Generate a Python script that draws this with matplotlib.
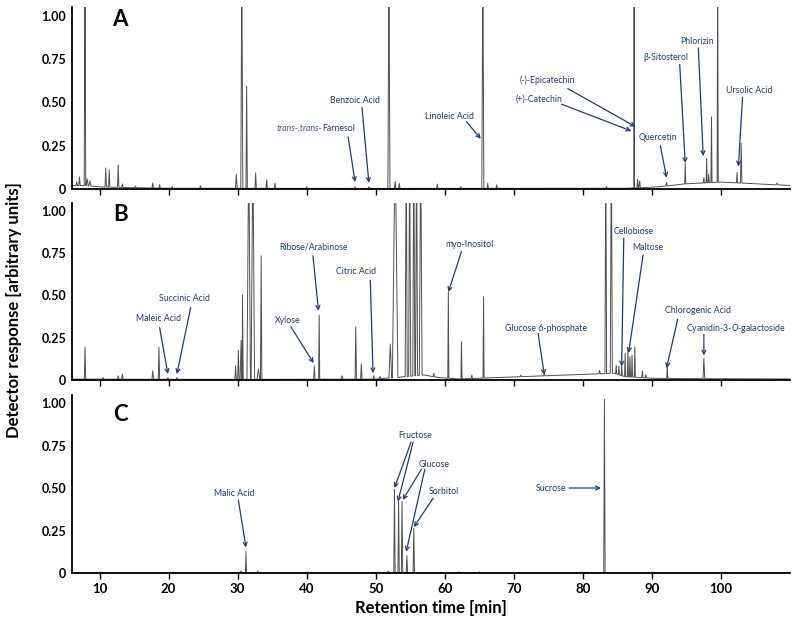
import numpy as np
import matplotlib.pyplot as plt

plt.rcParams["font.family"] = ["Lato", "DejaVu Sans"]
plt.rcParams["mathtext.fontset"] = "custom"
plt.rcParams["mathtext.it"] = "Lato:italic"
plt.rcParams["mathtext.rm"] = "Lato"

# peaks: (retention time [min], height, half width [min])
peaks_a = [
    (6.7, 0.02, 0.1), (7.1, 0.05, 0.1), (7.9, 1.30, 0.12), (8.2, 0.04, 0.15),
    (8.6, 0.03, 0.15), (10.9, 0.11, 0.1), (11.4, 0.10, 0.1), (12.7, 0.13, 0.1),
    (13.3, 0.02, 0.1), (15.2, 0.01, 0.1), (17.7, 0.03, 0.1), (18.7, 0.02, 0.1),
    (20.5, 0.01, 0.1), (24.6, 0.015, 0.1), (29.8, 0.08, 0.12), (30.6, 1.30, 0.15),
    (31.3, 0.59, 0.1), (32.6, 0.09, 0.1), (34.2, 0.05, 0.1), (35.4, 0.03, 0.1),
    (40.0, 0.01, 0.1), (47.0, 0.01, 0.1), (49.0, 0.01, 0.1), (51.9, 1.30, 0.15),
    (52.8, 0.04, 0.1), (53.4, 0.03, 0.1), (58.9, 0.025, 0.1), (62.3, 0.01, 0.1),
    (65.5, 1.30, 0.15), (66.2, 0.03, 0.1), (67.5, 0.02, 0.1), (83.4, 0.01, 0.1),
    (87.4, 1.30, 0.05), (87.9, 0.05, 0.1), (88.2, 0.04, 0.1), (92.1, 0.02, 0.1),
    (94.8, 0.12, 0.08), (97.5, 0.03, 0.08), (97.9, 0.14, 0.08), (98.2, 0.05, 0.08),
    (98.6, 0.38, 0.08), (99.5, 1.30, 0.08), (102.3, 0.06, 0.08), (102.9, 0.23, 0.1),
    (108.1, 0.01, 0.15),
]
base_a_rt = [6.0, 8.0, 10.0, 14.0, 20.0, 50.0, 86.0, 89.0, 91.0, 95.0, 100.0, 105.0, 110.0]
base_a_lvl = [0.02, 0.02, 0.012, 0.008, 0.004, 0.003, 0.004, 0.008, 0.013, 0.03, 0.04, 0.03, 0.02]

peaks_b = [
    (7.9, 0.19, 0.1), (10.5, 0.01, 0.1), (12.7, 0.02, 0.1), (13.3, 0.03, 0.1),
    (17.7, 0.05, 0.12), (18.6, 0.19, 0.1), (19.9, 0.01, 0.1), (21.2, 0.01, 0.1),
    (29.7, 0.08, 0.1), (30.1, 0.17, 0.1), (30.5, 0.23, 0.15), (30.7, 0.50, 0.1),
    (31.6, 1.40, 0.25), (32.2, 1.40, 0.25), (33.0, 0.06, 0.2), (33.4, 0.73, 0.1),
    (41.1, 0.08, 0.1), (41.8, 0.38, 0.08), (45.1, 0.02, 0.15), (47.1, 0.31, 0.1),
    (47.9, 0.09, 0.1), (49.7, 0.02, 0.1), (50.6, 0.015, 0.1), (52.1, 0.20, 0.2),
    (52.8, 1.40, 0.4), (54.4, 1.40, 0.15), (54.9, 1.40, 0.15), (55.5, 1.40, 0.15),
    (55.9, 1.40, 0.15), (56.5, 1.40, 0.2), (58.4, 0.02, 0.1), (60.5, 0.51, 0.08),
    (62.4, 0.22, 0.08), (63.9, 0.02, 0.1), (65.6, 0.48, 0.08), (71.0, 0.01, 0.1),
    (74.4, 0.01, 0.1), (82.4, 0.02, 0.1), (83.3, 1.40, 0.12), (84.1, 1.40, 0.15),
    (84.8, 0.05, 0.08), (85.2, 0.05, 0.08), (85.6, 0.06, 0.08), (86.1, 0.14, 0.08),
    (86.5, 0.17, 0.08), (86.8, 0.12, 0.08), (87.1, 0.13, 0.08), (87.5, 0.18, 0.08),
    (88.6, 0.04, 0.1), (89.1, 0.02, 0.1), (92.2, 0.07, 0.08), (97.5, 0.12, 0.12),
]
base_b_rt = [6.0, 20.0, 35.0, 50.0, 57.0, 59.0, 62.0, 84.5, 86.0, 90.0, 95.0, 110.0]
base_b_lvl = [0.005, 0.004, 0.004, 0.005, 0.03, 0.015, 0.006, 0.04, 0.02, 0.01, 0.008, 0.006]

peaks_c = [
    (30.5, 0.01, 0.1), (31.2, 0.125, 0.08), (32.9, 0.01, 0.1), (51.8, 0.01, 0.1),
    (52.7, 0.49, 0.1), (53.3, 0.42, 0.1), (53.8, 0.42, 0.1), (54.5, 0.10, 0.1),
    (55.5, 0.26, 0.1), (62.0, 0.005, 0.1), (65.0, 0.005, 0.1), (83.1, 1.02, 0.1),
]
base_c_rt = [6.0, 110.0]
base_c_lvl = [0.002, 0.002]

# labels: (text, text x, text y, arrow start x, arrow start y, arrow tip x, arrow tip y)
labels_a = [
    ("Benzoic Acid", 47.0, 0.51, 48.0, 0.47, 49.0, 0.035),
    ("Linoleic Acid", 60.7, 0.42, 63.1, 0.39, 65.2, 0.29),
    ("(-)-Epicatechin", 74.8, 0.63, 77.8, 0.58, 87.6, 0.36),
    ("(+)-Catechin", 73.7, 0.52, 76.9, 0.49, 87.0, 0.335),
    ("Quercetin", 90.8, 0.30, 91.2, 0.25, 92.1, 0.065),
    ("β-Sitosterol", 92.0, 0.76, 94.0, 0.72, 94.8, 0.15),
    ("Phlorizin", 96.5, 0.855, 96.7, 0.815, 97.4, 0.19),
    ("Ursolic Acid", 104.1, 0.57, 103.1, 0.53, 102.5, 0.13),
]
labels_b = [
    ("Maleic Acid", 18.5, 0.365, 18.7, 0.31, 19.9, 0.035),
    ("Succinic Acid", 22.3, 0.48, 23.2, 0.43, 21.2, 0.035),
    ("Xylose", 37.2, 0.35, 37.7, 0.315, 41.0, 0.10),
    ("Ribose/Arabinose", 41.0, 0.785, 40.9, 0.735, 41.7, 0.41),
    ("Citric Acid", 47.2, 0.64, 49.2, 0.59, 49.6, 0.04),
    ("myo-Inositol", 63.5, 0.80, 62.4, 0.76, 60.5, 0.52),
    ("Glucose 6-phosphate", 74.6, 0.305, 73.5, 0.275, 74.4, 0.03),
    ("Cellobiose", 87.4, 0.88, 85.9, 0.84, 85.6, 0.08),
    ("Maltose", 89.4, 0.785, 88.7, 0.74, 86.6, 0.16),
    ("Chlorogenic Acid", 96.6, 0.41, 93.7, 0.36, 92.1, 0.07),
    ("Cyanidin-3-$\\it{O}$-galactoside", 102.1, 0.305, 97.5, 0.27, 97.5, 0.145),
]
labels_c = [
    ("Malic Acid", 29.5, 0.47, 30.1, 0.43, 31.2, 0.15),
    ("Fructose", 55.7, 0.81, 55.1, 0.77, 52.7, 0.50),
    ("", 0, 0, 55.4, 0.77, 53.2, 0.42),
    ("Glucose", 58.5, 0.64, 56.6, 0.61, 53.9, 0.43),
    ("", 0, 0, 57.1, 0.61, 54.4, 0.125),
    ("Sorbitol", 59.8, 0.48, 58.3, 0.44, 55.5, 0.27),
]

x_ticks = [10, 20, 30, 40, 50, 60, 70, 80, 90, 100]
y_ticks = [0, 0.25, 0.5, 0.75, 1.0]
y_ticklabels = ["0", "0.25", "0.50", "0.75", "1.00"]

line_col = "#505050"
ann_col = "#1f3e6e"


def build_trace(peaks, base_rt, base_lvl):
    xs = list(base_rt)
    ys = list(base_lvl)
    for rt, h, w in peaks:
        b = np.interp(rt, base_rt, base_lvl)
        xs += [rt - w, rt, rt + w]
        ys += [b, b + h, b]
    order = np.argsort(xs, kind="stable")
    return np.array(xs)[order], np.array(ys)[order]


def add_labels(ax, labels):
    for txt, tx, ty, sx, sy, ex, ey in labels:
        if txt:
            ax.text(tx, ty, txt, color=ann_col, fontsize=6.3, ha="center", va="center")
        ax.annotate(
            "", xy=(ex, ey), xytext=(sx, sy),
            arrowprops=dict(arrowstyle="->", color=ann_col, lw=0.9,
                            shrinkA=0, shrinkB=0, mutation_scale=7),
        )


fig = plt.figure(figsize=(7.99, 6.21), dpi=100)
boxes = [
    [0.090, 0.6957, 0.899, 0.2925],
    [0.090, 0.3881, 0.899, 0.2858],
    [0.090, 0.0773, 0.899, 0.2874],
]
panels = [
    ("A", peaks_a, base_a_rt, base_a_lvl, labels_a, 0.98),
    ("B", peaks_b, base_b_rt, base_b_lvl, labels_b, 0.98),
    ("C", peaks_c, base_c_rt, base_c_lvl, labels_c, 0.93),
]

axes = []
for box, (name, peaks, brt, blvl, labels, ly) in zip(boxes, panels):
    ax = fig.add_axes(box)
    x, y = build_trace(peaks, brt, blvl)
    ax.plot(x, y, color=line_col, lw=0.7)
    ax.set_xlim(6, 110)
    ax.set_ylim(0, 1.05)
    ax.set_xticks(x_ticks)
    ax.set_yticks(y_ticks)
    ax.set_yticklabels(y_ticklabels, fontsize=9, fontweight="bold")
    ax.spines["top"].set_visible(False)
    ax.spines["right"].set_visible(False)
    ax.spines["left"].set_linewidth(1.3)
    ax.spines["bottom"].set_linewidth(1.3)
    ax.tick_params(axis="x", direction="out", length=4, width=1)
    ax.tick_params(axis="y", direction="out", length=0, pad=4)
    ax.text(13.0, ly, name, fontsize=16, fontweight="bold", ha="center", va="center")
    add_labels(ax, labels)
    axes.append(ax)

# italic/normal mix for the farnesol label
ax_a = axes[0]
ax_a.text(42.2, 0.35, "trans-,trans-", color="#3d5f91", fontsize=6.3,
          style="italic", ha="right", va="center")
ax_a.text(42.2, 0.35, "Farnesol", color=ann_col, fontsize=6.3, ha="left", va="center")
ax_a.annotate("", xy=(47.0, 0.04), xytext=(46.0, 0.30),
              arrowprops=dict(arrowstyle="->", color=ann_col, lw=0.9,
                              shrinkA=0, shrinkB=0, mutation_scale=7))

# sucrose label with horizontal arrow
ax_c = axes[2]
ax_c.text(77.6, 0.50, "Sucrose", color=ann_col, fontsize=6.3, ha="right", va="center")
ax_c.annotate("", xy=(82.6, 0.50), xytext=(78.0, 0.50),
              arrowprops=dict(arrowstyle="->", color=ann_col, lw=0.9,
                              shrinkA=0, shrinkB=0, mutation_scale=7))

for ax in axes[:2]:
    ax.set_xticklabels([])
axes[2].set_xticklabels([str(t) for t in x_ticks], fontsize=9.5, fontweight="bold")
axes[2].set_xlabel("Retention time [min]", fontsize=12, fontweight="bold", labelpad=3)

fig.text(0.018, 0.5, "Detector response [arbitrary units]", rotation=90,
         fontsize=12, fontweight="bold", ha="center", va="center")

fig.savefig("out.png", dpi=100)
